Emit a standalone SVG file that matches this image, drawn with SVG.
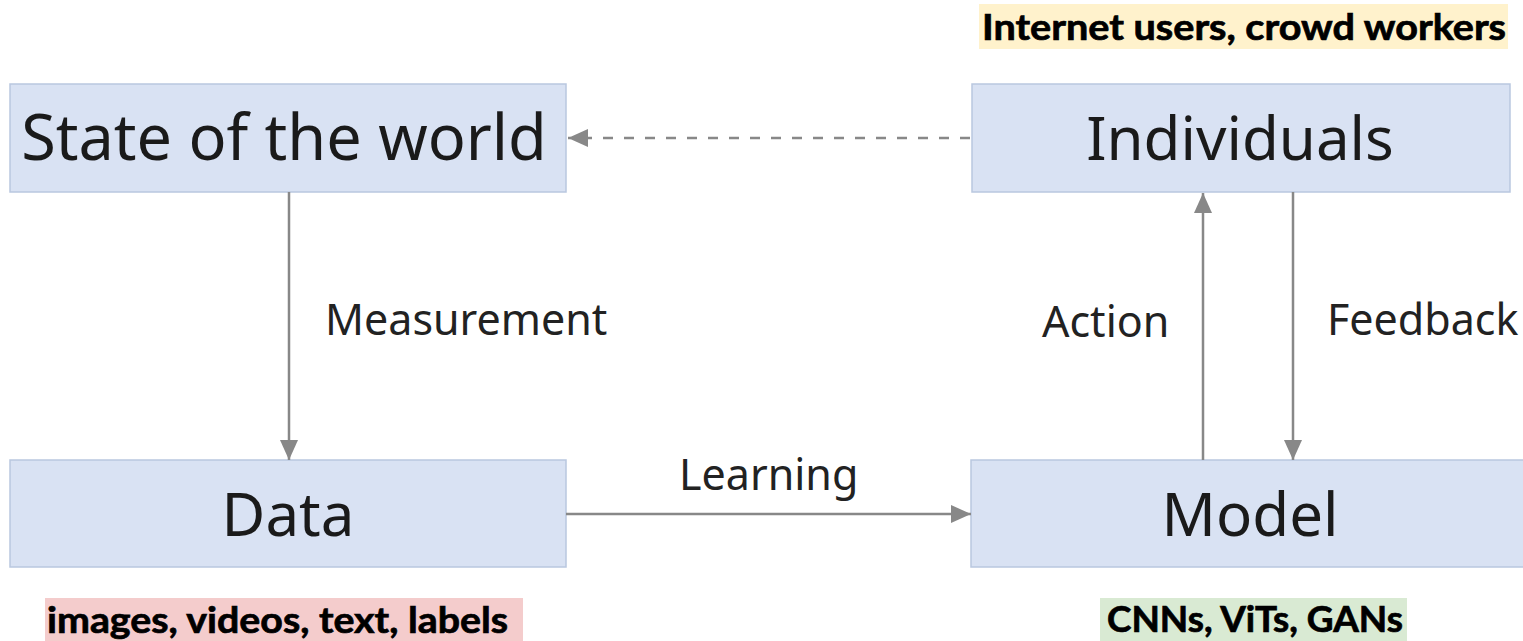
<svg xmlns="http://www.w3.org/2000/svg" width="1523" height="641" viewBox="0 0 1523 641">
  <style>
    .box { fill: #d9e2f3; stroke: #b9c7df; stroke-width: 1.5; }
    .big { font-family: "Noto Sans", "DejaVu Sans", sans-serif; font-size: 60px; fill: #1a1a1a; text-anchor: middle; }
    .lbl { font-family: "Noto Sans", "DejaVu Sans", sans-serif; font-size: 43px; fill: #222; }
    .tag { font-family: Lato, "Noto Sans", sans-serif; font-weight: 700; font-size: 36px; fill: #000; stroke: #000; stroke-width: 0.7; }
    .edge { stroke: #888; stroke-width: 2.5; fill: none; }
    .dash { stroke-dasharray: 10 11; }
  </style>
  <defs>
    <marker id="arrow" viewBox="0 0 20 20" refX="20" refY="10" markerWidth="20" markerHeight="20" markerUnits="userSpaceOnUse" orient="auto">
      <path d="M0,1 L20,10 L0,19 Z" fill="#888"/>
    </marker>
  </defs>

  <rect width="1523" height="641" fill="#fff"/>

  <!-- category tags -->
  <g id="tag-individuals">
    <rect x="979" y="4" width="529" height="45" fill="#fff2cc"/>
    <text class="tag" x="982" y="40" textLength="524" lengthAdjust="spacingAndGlyphs">Internet users, crowd workers</text>
  </g>
  <g id="tag-data">
    <rect x="45" y="598" width="478" height="43" fill="#f4cccc"/>
    <text class="tag" x="47" y="633" textLength="461" lengthAdjust="spacingAndGlyphs">images, videos, text, labels</text>
  </g>
  <g id="tag-model">
    <rect x="1100" y="598" width="307" height="43" fill="#d9ead3"/>
    <text class="tag" x="1107" y="632" textLength="296" lengthAdjust="spacingAndGlyphs">CNNs, ViTs, GANs</text>
  </g>

  <!-- nodes -->
  <g id="state">
    <rect class="box" x="10" y="84" width="556" height="108"/>
    <text class="big" x="284" y="160" style="font-size:63px">State of the world</text>
  </g>
  <g id="individuals">
    <rect class="box" x="972" y="84" width="538" height="108"/>
    <text class="big" x="1240" y="160">Individuals</text>
  </g>
  <g id="data">
    <rect class="box" x="10" y="460" width="556" height="107"/>
    <text class="big" x="288" y="536">Data</text>
  </g>
  <g id="model">
    <rect class="box" x="971" y="460" width="560" height="107"/>
    <text class="big" x="1250" y="536">Model</text>
  </g>

  <!-- connectors -->
  <g id="connectors">
    <line class="edge dash" x1="970" y1="138" x2="568" y2="138" marker-end="url(#arrow)"/>
    <line class="edge" x1="289" y1="192" x2="289" y2="460" marker-end="url(#arrow)"/>
    <line class="edge" x1="566" y1="514" x2="971" y2="514" marker-end="url(#arrow)"/>
    <line class="edge" x1="1203" y1="460" x2="1203" y2="193" marker-end="url(#arrow)"/>
    <line class="edge" x1="1293" y1="192" x2="1293" y2="460" marker-end="url(#arrow)"/>
    <text class="lbl" x="325" y="335">Measurement</text>
    <text class="lbl" x="679" y="490">Learning</text>
    <text class="lbl" x="1042" y="337">Action</text>
    <text class="lbl" x="1327" y="335">Feedback</text>
  </g>
</svg>
